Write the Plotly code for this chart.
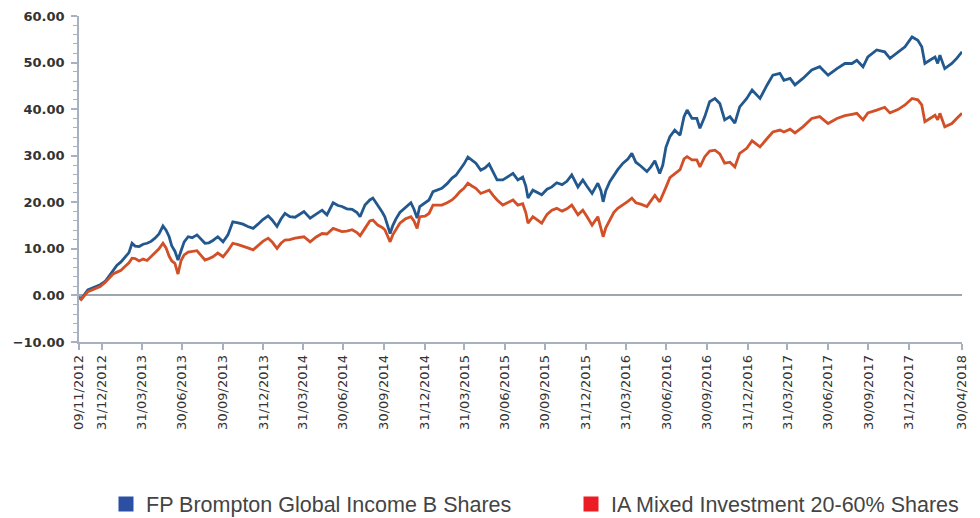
import datetime as dt
import plotly.graph_objects as go

# ---- data ----
launch_date = "2012-11-09"
days_since_launch = [
    0, 5, 20, 36, 48, 59, 68, 77, 86, 95, 104, 113, 120, 127, 136, 145, 154, 163, 172, 181,
    190, 197, 204, 210, 217, 224, 231, 238, 247, 256, 267, 276, 285, 294, 303, 314, 326, 337, 348, 360,
    371, 382, 394, 405, 416, 428, 437, 448, 457, 466, 477, 489, 500, 509, 523, 536, 550, 561, 575, 586,
    595, 606, 618, 629, 636, 647, 658, 665, 676, 686, 692, 699, 704, 710, 717, 726, 738, 751, 758, 765,
    771, 783, 792, 801, 810, 821, 833, 844, 853, 862, 871, 880, 889, 898, 909, 919, 928, 937, 946, 959,
    971, 982, 993, 1004, 1011, 1016, 1027, 1038, 1047, 1059, 1070, 1081, 1093, 1104, 1115, 1129, 1140, 1149, 1161, 1174,
    1181, 1186, 1192, 1201, 1210, 1219, 1231, 1242, 1251, 1260, 1271, 1285, 1294, 1303, 1314, 1321, 1328, 1337, 1348, 1360,
    1369, 1376, 1387, 1398, 1405, 1416, 1427, 1439, 1450, 1461, 1473, 1484, 1495, 1511, 1523, 1534, 1541, 1557, 1570, 1586,
    1595, 1609, 1620, 1638, 1658, 1676, 1695, 1715, 1733, 1749, 1760, 1774, 1785, 1805, 1823, 1835, 1853, 1869, 1885, 1898,
    1907, 1914, 1925, 1937, 1943, 1948, 1959, 1975, 1986, 1998,
]

fund_values = [
    -0.3, -0.8, 1.2, 1.9, 2.3, 3.0, 4.2, 5.5, 6.5, 7.2, 8.3, 9.2, 11.2, 10.6, 10.5, 11.0, 11.2, 11.6, 12.3, 13.2,
    14.9, 14.0, 12.6, 10.6, 9.5, 7.6, 9.6, 11.5, 12.6, 12.4, 13.0, 12.0, 11.2, 11.3, 11.8, 12.6, 11.5, 13.0, 15.8, 15.6,
    15.3, 14.8, 14.4, 15.3, 16.3, 17.1, 16.2, 14.8, 16.4, 17.6, 16.9, 16.8, 17.5, 18.0, 16.6, 17.5, 18.3, 17.3, 19.9, 19.3,
    19.1, 18.6, 18.5, 17.8, 16.9, 19.4, 20.5, 20.9, 19.4, 17.9, 16.9, 14.8, 13.3, 15.0, 16.4, 17.8, 18.8, 19.9, 18.5, 16.6,
    19.1, 19.8, 20.5, 22.3, 22.6, 23.0, 24.0, 25.2, 25.8, 26.9, 28.2, 29.7, 29.0, 28.4, 26.9, 27.4, 28.2, 26.5, 24.8, 24.8,
    25.5, 26.2, 24.8, 25.4, 23.5, 20.9, 22.6, 22.0, 21.6, 22.8, 23.3, 24.2, 23.8, 24.5, 25.9, 23.3, 24.8, 23.5, 21.9, 24.1,
    22.5, 20.1, 22.5, 24.4, 25.8, 27.0, 28.4, 29.3, 30.5, 28.6, 27.8, 26.6, 27.6, 28.9, 26.2, 28.0, 31.8, 34.1, 35.5, 34.4,
    38.4, 39.8, 38.0, 38.0, 35.9, 38.4, 41.6, 42.3, 41.2, 37.7, 38.4, 37.0, 40.5, 42.3, 44.1, 43.0, 42.3, 45.2, 47.3, 47.7,
    46.2, 46.6, 45.2, 46.6, 48.4, 49.1, 47.3, 48.7, 49.8, 49.8, 50.5, 49.1, 51.2, 52.7, 52.3, 50.9, 52.3, 53.4, 55.5, 54.8,
    53.4, 49.8, 50.5, 51.2, 49.8, 51.6, 48.7, 49.8, 50.9, 52.3,
]

sector_values = [
    -0.5, -0.9, 0.8, 1.5, 1.9, 2.8, 3.6, 4.6, 5.0, 5.4, 6.2, 7.0, 8.0, 7.9, 7.4, 7.8, 7.5, 8.4, 9.1, 10.0,
    11.2, 10.2, 8.4, 7.4, 6.9, 4.6, 7.5, 8.7, 9.3, 9.4, 9.6, 8.6, 7.6, 7.9, 8.3, 9.1, 8.3, 9.6, 11.2, 10.9,
    10.6, 10.2, 9.8, 10.8, 11.6, 12.3, 11.5, 10.1, 11.2, 11.9, 12.0, 12.3, 12.5, 12.6, 11.5, 12.5, 13.3, 13.2, 14.4, 14.0,
    13.7, 13.8, 14.1, 13.5, 12.8, 14.4, 16.0, 16.2, 15.1, 14.6, 14.1, 12.6, 11.5, 13.0, 14.2, 15.5, 16.4, 16.9, 16.0, 14.4,
    16.9, 17.0, 17.6, 19.4, 19.4, 19.4, 19.9, 20.5, 21.3, 22.3, 23.0, 24.1, 23.5, 23.0, 21.9, 22.2, 22.6, 21.5, 20.5, 19.4,
    20.0, 20.5, 19.4, 19.7, 17.8, 15.5, 16.9, 16.2, 15.5, 17.4, 18.3, 18.7, 18.1, 18.6, 19.4, 17.3, 18.3, 17.0, 15.1, 16.9,
    14.5, 12.6, 14.5, 16.2, 17.8, 18.7, 19.4, 20.2, 20.9, 19.9, 19.6, 19.1, 20.3, 21.5, 20.1, 21.5, 23.2, 25.3, 26.2, 27.0,
    29.3, 29.8, 29.1, 29.1, 27.6, 29.8, 31.0, 31.2, 30.4, 28.4, 28.6, 27.6, 30.5, 31.6, 33.2, 32.4, 31.9, 33.7, 35.1, 35.5,
    35.1, 35.7, 34.9, 36.2, 38.0, 38.4, 36.9, 38.0, 38.6, 38.9, 39.1, 37.7, 39.2, 39.8, 40.4, 39.2, 39.9, 40.9, 42.3, 42.0,
    40.9, 37.3, 38.0, 38.7, 37.7, 39.1, 36.2, 36.9, 38.0, 39.1,
]

series_names = ["FP Brompton Global Income B Shares", "IA Mixed Investment 20-60% Shares"]

tick_dates = [
    "2012-11-09", "2012-12-31", "2013-03-31", "2013-06-30", "2013-09-30", "2013-12-31",
    "2014-03-31", "2014-06-30", "2014-09-30", "2014-12-31", "2015-03-31", "2015-06-30",
    "2015-09-30", "2015-12-31", "2016-03-31", "2016-06-30", "2016-09-30", "2016-12-31",
    "2017-03-31", "2017-06-30", "2017-09-30", "2017-12-31", "2018-04-30",
]

y_ticks = [-10, 0, 10, 20, 30, 40, 50, 60]

# ---- build ----
start = dt.date.fromisoformat(launch_date)
dates = [start + dt.timedelta(days=d) for d in days_since_launch]
tick_text = [dt.date.fromisoformat(t).strftime("%d/%m/%Y") for t in tick_dates]

line_colors = ["#22588e", "#d24f27"]
legend_colors = ["#2b4fa3", "#ec1c24"]
axis_color = "#a8b1bf"

fig = go.Figure()
for vals, col, name in zip([fund_values, sector_values], line_colors, series_names):
    fig.add_trace(go.Scatter(x=dates, y=vals, mode="lines", name=name,
                             line=dict(color=col, width=2.8), showlegend=False))
for col, name, lg in zip(legend_colors, series_names, ["legend", "legend2"]):
    fig.add_trace(go.Scatter(x=[None], y=[None], mode="markers", name=name, legend=lg,
                             marker=dict(symbol="square", size=15, color=col)))

legend_font = dict(family="Liberation Sans, Arial", size=21.5, color="#444444")
fig.update_layout(
    width=980, height=518,
    margin=dict(l=71, r=26, t=8, b=184, autoexpand=False),
    paper_bgcolor="white", plot_bgcolor="white",
    showlegend=True,
    legend=dict(orientation="h", xref="container", x=0.1, xanchor="left",
                yref="container", y=0.0425, yanchor="middle", font=legend_font),
    legend2=dict(orientation="h", xref="container", x=0.5745, xanchor="left",
                 yref="container", y=0.0425, yanchor="middle", font=legend_font),
)
fig.update_xaxes(
    type="date", range=[tick_dates[0], tick_dates[-1]], automargin=False,
    tickmode="array", tickvals=tick_dates, ticktext=tick_text, tickangle=-90,
    showgrid=False, zeroline=False, showline=True, linecolor=axis_color, linewidth=1.5,
    ticks="outside", ticklen=6, tickcolor=axis_color, tickwidth=1.5,
    tickfont=dict(family="DejaVu Sans", size=13, color="#333333"),
)
fig.update_yaxes(
    range=[-10, 60], tickmode="array", tickvals=y_ticks, tickformat=".2f", automargin=False,
    showgrid=False, zeroline=True, zerolinecolor="#9da5ae", zerolinewidth=1.5,
    showline=True, linecolor=axis_color, linewidth=1.5,
    ticks="outside", ticklen=6, tickcolor=axis_color, tickwidth=1.5,
    minor=dict(dtick=2, ticks="outside", ticklen=4, tickcolor=axis_color, tickwidth=1),
    tickfont=dict(family="DejaVu Sans", size=13, color="#333333", weight="bold"),
    ticklabelstandoff=4,
)

fig.write_html("out.html")
